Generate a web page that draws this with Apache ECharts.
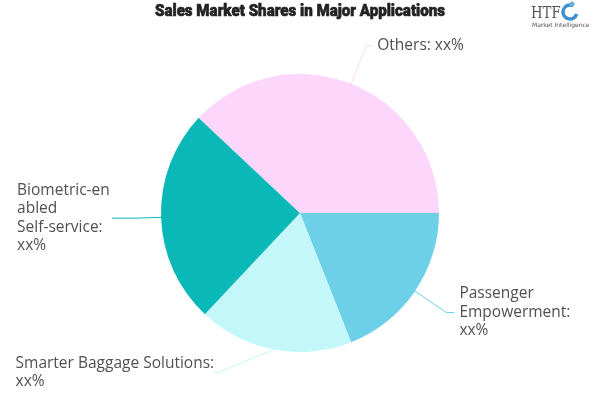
<!DOCTYPE html>
<html>
<head>
<meta charset="utf-8">
<script src="https://cdn.jsdelivr.net/npm/echarts@6/dist/echarts.min.js"></script>
<style>html,body{margin:0;padding:0;background:#fff}#chart{width:600px;height:400px}</style>
</head>
<body>
<div id="chart"></div>
<script>
var titleText = 'Sales Market Shares in Major Applications';
var categories = ['Passenger Empowerment', 'Smarter Baggage Solutions', 'Biometric-enabled Self-service', 'Others'];
var shares = [19, 18, 25, 38];
var valueLabels = ['xx%', 'xx%', 'xx%', 'xx%'];
// label text as it wraps in the picture
var labelLinesText = [
  ['Passenger', 'Empowerment:', 'xx%'],
  ['Smarter Baggage Solutions:', 'xx%'],
  ['Biometric-en', 'abled', 'Self-service:', 'xx%'],
  ['Others: xx%']
];
var colors = ['#6dd0e8', '#c4f7fa', '#0bb8b8', '#fdd6fb'];

// label layout tuning (leader line lengths, text block widths)
var leaderCfg = [
  {length: 38, length2: 8},
  {length: 23.5, length2: 56, width: 193},
  {length: 25, length2: 24, width: 90},
  {length: 41, length2: 6}
];

var FONT = '"Open Sans", sans-serif';

// measure title to emulate a condensed heavy face
var cv = document.createElement('canvas').getContext('2d');
cv.font = '900 16px Roboto';
var tW = cv.measureText(titleText).width;
var tScale = 290 / tW;

var chart = echarts.init(document.getElementById('chart'), null, {renderer: 'canvas'});
var data = categories.map(function (c, i) {
  var d = {
    name: c, value: shares[i],
    itemStyle: {color: colors[i]},
    labelLine: {length: leaderCfg[i].length, length2: leaderCfg[i].length2, lineStyle: {color: colors[i], width: 1}}
  };
  if (leaderCfg[i].width) d.label = {width: leaderCfg[i].width};
  return d;
});
chart.setOption({
  backgroundColor: '#ffffff',
  animation: false,
  graphic: [
    {type: 'text', x: 300, y: 12, scaleX: tScale, style: {text: titleText, font: '900 16px Roboto', fill: '#222', stroke: '#222', lineWidth: 0.6, textAlign: 'center', textVerticalAlign: 'middle'}},
    {type: 'text', x: 531, y: 5, scaleX: 0.78, style: {text: 'HTF', font: '17px "DejaVu Serif", serif', fill: '#555'}},
    {type: 'arc', shape: {cx: 570, cy: 12, r: 7, startAngle: 0.3, endAngle: 5.2}, style: {fill: 'none', stroke: '#3f8fcc', lineWidth: 3.5}},
    {type: 'circle', shape: {cx: 572, cy: 4, r: 2.5}, style: {fill: '#6ab0dd'}},
    {type: 'text', x: 532, y: 22, style: {text: 'Market Intelligence', font: '6px "DejaVu Sans", sans-serif', fill: '#555'}}
  ],
  series: [{
    type: 'pie',
    center: [300, 213],
    radius: 139,
    startAngle: 0,
    clockwise: true,
    data: data,
    label: {
      formatter: function (p) {
        return labelLinesText[p.dataIndex].map(function (l) { return '{t|' + l + '}'; }).join('\n');
      },
      overflow: 'none',
      rich: {
        t: {align: 'left', fontFamily: FONT, fontSize: 15.5, lineHeight: 18.5, color: '#505050'}
      }
    },
    labelLayout: function (params) {
      if (params.dataIndex === 1 && params.labelLinePoints) {
        var pts = params.labelLinePoints;
        return {labelLinePoints: [pts[0], [pts[2][0] + 4, pts[2][1]], pts[2]]};
      }
      return {};
    }
  }]
});
</script>
</body>
</html>
